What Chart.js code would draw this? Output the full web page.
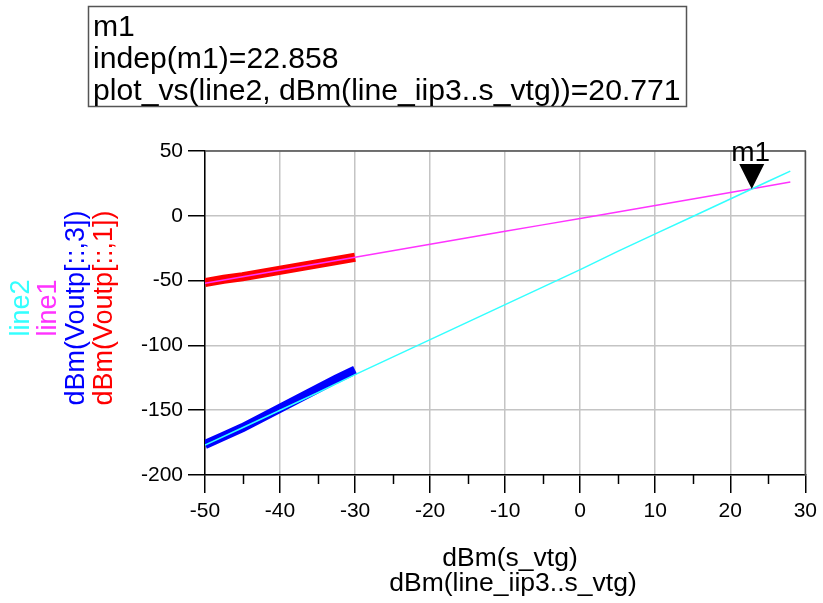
<!DOCTYPE html>
<html>
<head>
<meta charset="utf-8">
<script src="https://cdn.jsdelivr.net/npm/chart.js@4.4.0/dist/chart.umd.min.js"></script>
<style>
  body { margin: 0; background: #fff; }
  canvas { display: block; }
</style>
</head>
<body>
<canvas id="chart" width="823" height="603"></canvas>
<script>
// ----- data -----
const sweepX = [-50, -45, -40, -35, -30, -25, -20, -15, -10, -5, 0, 5, 10, 15, 20, 25, 28];
const line2Y = [-177, -163.5, -150, -136.5, -122.5, -109, -95.5, -82, -68.5, -55, -41.5, -27.5, -14, -0.5, 13, 26.5, 34.5];
const line1Y = [-52, -47, -42, -37, -32, -27, -22, -17, -12, -7, -2, 3, 8, 13, 18, 23, 26];

const measX = [-50, -47.5, -45, -42.5, -40, -37.5, -35, -32.5, -30];
const voutp1Y = [-51.5, -49, -47, -44.5, -42, -39.5, -37, -34.5, -32];
const voutp3Y = [-176.5, -170, -163.5, -156, -148.5, -141, -133.5, -126, -119];

const m1X = 22.858;
const m1Y = 20.771;
const minorX = [-45, -35, -25, -15, -5, 5, 15, 25];

const markerLines = ['m1', 'indep(m1)=22.858', 'plot_vs(line2, dBm(line_iip3..s_vtg))=20.771'];
const xTitle = ['dBm(s_vtg)', 'dBm(line_iip3..s_vtg)'];
const legendItems = [
  { text: 'line2', color: '#33ffff' },
  { text: 'line1', color: '#ff33ff' },
  { text: 'dBm(Voutp[::,3])', color: '#0000ff' },
  { text: 'dBm(Voutp[::,1])', color: '#ff0000' }
];

const FONT = '"Liberation Sans", Arial, sans-serif';

function pts(xs, ys) {
  return xs.map((x, i) => ({ x: x, y: ys[i] }));
}

// text drawn a bit wider than Arial, like the original
function wideText(ctx, text, x, y, sx, align) {
  ctx.save();
  ctx.translate(x, y);
  ctx.scale(sx, 1);
  ctx.textAlign = align;
  ctx.fillText(text, 0, 0);
  ctx.restore();
}

const extras = {
  id: 'extras',
  afterDraw(chart) {
    const ctx = chart.ctx;
    const a = chart.chartArea;
    const xs = chart.scales.x;
    const ys = chart.scales.y;

    // top / right frame
    ctx.save();
    ctx.strokeStyle = '#505050';
    ctx.lineWidth = 1.5;
    ctx.beginPath();
    ctx.moveTo(a.left, a.top);
    ctx.lineTo(a.right, a.top);
    ctx.lineTo(a.right, a.bottom);
    ctx.stroke();

    // minor x ticks
    ctx.strokeStyle = '#000';
    ctx.lineWidth = 1.5;
    minorX.forEach(v => {
      const px = Math.round(xs.getPixelForValue(v)) + 0.5;
      ctx.beginPath();
      ctx.moveTo(px, a.bottom);
      ctx.lineTo(px, a.bottom + 9);
      ctx.stroke();
    });

    // marker m1
    const mx = xs.getPixelForValue(m1X);
    const my = ys.getPixelForValue(m1Y);
    ctx.fillStyle = '#000';
    ctx.beginPath();
    ctx.moveTo(mx, my);
    ctx.lineTo(mx - 12.5, my - 25);
    ctx.lineTo(mx + 12.5, my - 25);
    ctx.closePath();
    ctx.fill();
    ctx.font = '28px ' + FONT;
    ctx.textBaseline = 'alphabetic';
    ctx.textAlign = 'center';
    ctx.fillText('m1', mx - 1, my - 28);

    // marker readout box
    ctx.strokeStyle = '#555';
    ctx.lineWidth = 1.5;
    ctx.strokeRect(88.5, 6.5, 598, 100);
    ctx.font = '29px ' + FONT;
    const baselines = [36, 68, 100];
    markerLines.forEach((t, i) => wideText(ctx, t, 93, baselines[i], 1.04, 'left'));

    // x axis title
    ctx.font = '25px ' + FONT;
    wideText(ctx, xTitle[0], 510, 566, 1.06, 'center');
    wideText(ctx, xTitle[1], 513, 591, 1.06, 'center');

    // rotated legend on the left
    ctx.font = '27px ' + FONT;
    ctx.textBaseline = 'middle';
    const cols = [22, 49, 77, 105];
    legendItems.forEach((it, i) => {
      ctx.save();
      ctx.fillStyle = it.color;
      ctx.translate(cols[i], 308);
      ctx.rotate(-Math.PI / 2);
      ctx.textAlign = 'center';
      ctx.fillText(it.text, 0, 0);
      ctx.restore();
    });
    ctx.restore();
  }
};

new Chart(document.getElementById('chart'), {
  type: 'scatter',
  data: {
    datasets: [
      {
        label: 'line2',
        data: pts(sweepX, line2Y),
        borderColor: '#33ffff',
        borderWidth: 1.5,
        showLine: true,
        pointRadius: 0,
        order: 0
      },
      {
        label: 'line1',
        data: pts(sweepX, line1Y),
        borderColor: '#ff33ff',
        borderWidth: 1.5,
        showLine: true,
        pointRadius: 0,
        order: 1
      },
      {
        label: 'dBm(Voutp[::,3])',
        data: pts(measX, voutp3Y),
        borderColor: '#0000ff',
        borderWidth: 9,
        borderCapStyle: 'butt',
        showLine: true,
        pointRadius: 0,
        order: 2
      },
      {
        label: 'dBm(Voutp[::,1])',
        data: pts(measX, voutp1Y),
        borderColor: '#ff0000',
        borderWidth: 9,
        borderCapStyle: 'butt',
        showLine: true,
        pointRadius: 0,
        order: 3
      }
    ]
  },
  options: {
    responsive: false,
    animation: false,
    layout: { padding: { left: 0, top: 151, right: 15, bottom: 0 } },
    plugins: {
      legend: { display: false },
      tooltip: { enabled: false }
    },
    scales: {
      x: {
        type: 'linear',
        min: -50,
        max: 30,
        afterFit: s => { s.height = 128; },
        ticks: {
          stepSize: 10,
          padding: 6,
          color: '#000',
          font: { family: FONT, size: 21 },
          callback: v => String(v)
        },
        grid: { color: '#c4c4c4', tickColor: '#000', tickLength: 18, lineWidth: 1.5 },
        border: { color: '#000', width: 1.5 }
      },
      y: {
        min: -200,
        max: 50,
        afterFit: s => { s.width = 205; },
        ticks: {
          stepSize: 50,
          padding: 5,
          color: '#000',
          font: { family: FONT, size: 21 },
          callback: v => String(v)
        },
        grid: { color: '#c4c4c4', tickColor: '#000', tickLength: 17, lineWidth: 1.5 },
        border: { color: '#000', width: 1.5 }
      }
    }
  },
  plugins: [extras]
});
</script>
</body>
</html>
